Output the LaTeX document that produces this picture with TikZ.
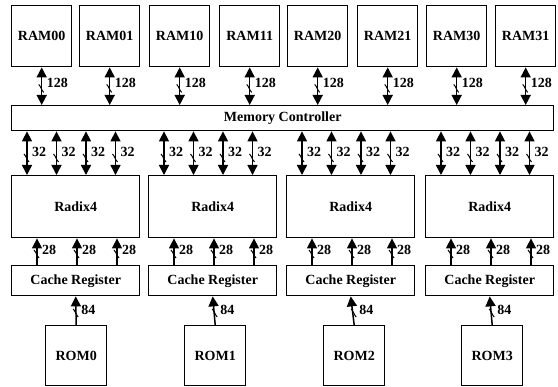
\documentclass[tikz,border=0pt]{standalone}
\usepackage{fontspec}
\setmainfont{Liberation Serif}
\usetikzlibrary{arrows.meta,calc}
\tikzset{
  box/.style={draw,line width=1.4pt,anchor=north west,inner sep=0pt,font=\fontsize{14}{16}\selectfont\bfseries},
  bus/.style={line width=1.5pt,-{Triangle[width=10pt,length=10pt]}},
  bibus/.style={line width=1.5pt,{Triangle[width=10pt,length=10pt]}-{Triangle[width=10pt,length=10pt]}},
  lbl/.style={anchor=west,inner sep=0pt,font=\fontsize{14}{16}\selectfont\bfseries},
  bustick/.pic={\draw[line width=1pt] (-3,-4) .. controls (-1,-2) and (0,2) .. (2,4);}
}
\begin{document}
\begin{tikzpicture}[x=1pt,y=-1pt]
\useasboundingbox (0,0) rectangle (558,387);
% RAMs
\foreach \n/\x in {00/11,01/79,10/149,11/219,20/287,21/357,30/426,31/495}
  \node[box,minimum width=60pt,minimum height=61pt] (ram\n) at (\x,5) {RAM\n};
% Memory controller
\node[box,minimum width=542pt,minimum height=25pt] (mc) at (11,105) {Memory Controller};
% Radix, cache, ROM
\foreach \i/\x in {0/11,1/148,2/286,3/425} {
  \node[box,minimum width=128pt,minimum height=62pt] (rad\i) at (\x,175) {Radix4};
  \node[box,minimum width=128pt,minimum height=30pt] (cr\i) at (\x,265) {Cache Register};
}
\foreach \i/\x in {0/45,1/184,2/323,3/461}
  \node[box,minimum width=61pt,minimum height=60pt] (rom\i) at (\x,325) {ROM\i};
% 128 buses
\foreach \n in {00,01,10,11,20,21,30,31} {
  \draw[bibus] (ram\n.south) -- (ram\n.south |- mc.north);
  \pic at ($(ram\n.south)+(0,21)$) {bustick};
  \node[lbl] at ($(ram\n.south)+(5,16)$) {128};
}
% 32 buses
\foreach \i in {0,1,2,3} {
  \foreach \o in {16,45.5,75,104.5} {
    \coordinate (t) at ($(rad\i.north west)+(\o,0)$);
    \draw[bibus] (t) -- (t |- mc.south);
    \pic at ($(t)+(0,-17)$) {bustick};
    \node[lbl] at ($(t)+(5,-23)$) {32};
  }
  \foreach \o in {26,66,106} {
    \coordinate (u) at ($(cr\i.north west)+(\o,0)$);
    \draw[bus] (u) -- (u |- rad\i.south);
    \pic at ($(u)+(0,-11)$) {bustick};
    \node[lbl] at ($(u)+(5,-15)$) {28};
  }
  \draw[bus] (rom\i.north) -- (cr\i.south);
  \pic at ($(rom\i.north)+(0,-12)$) {bustick};
  \node[lbl] at ($(rom\i.north)+(5,-15)$) {84};
}
\end{tikzpicture}
\end{document}
